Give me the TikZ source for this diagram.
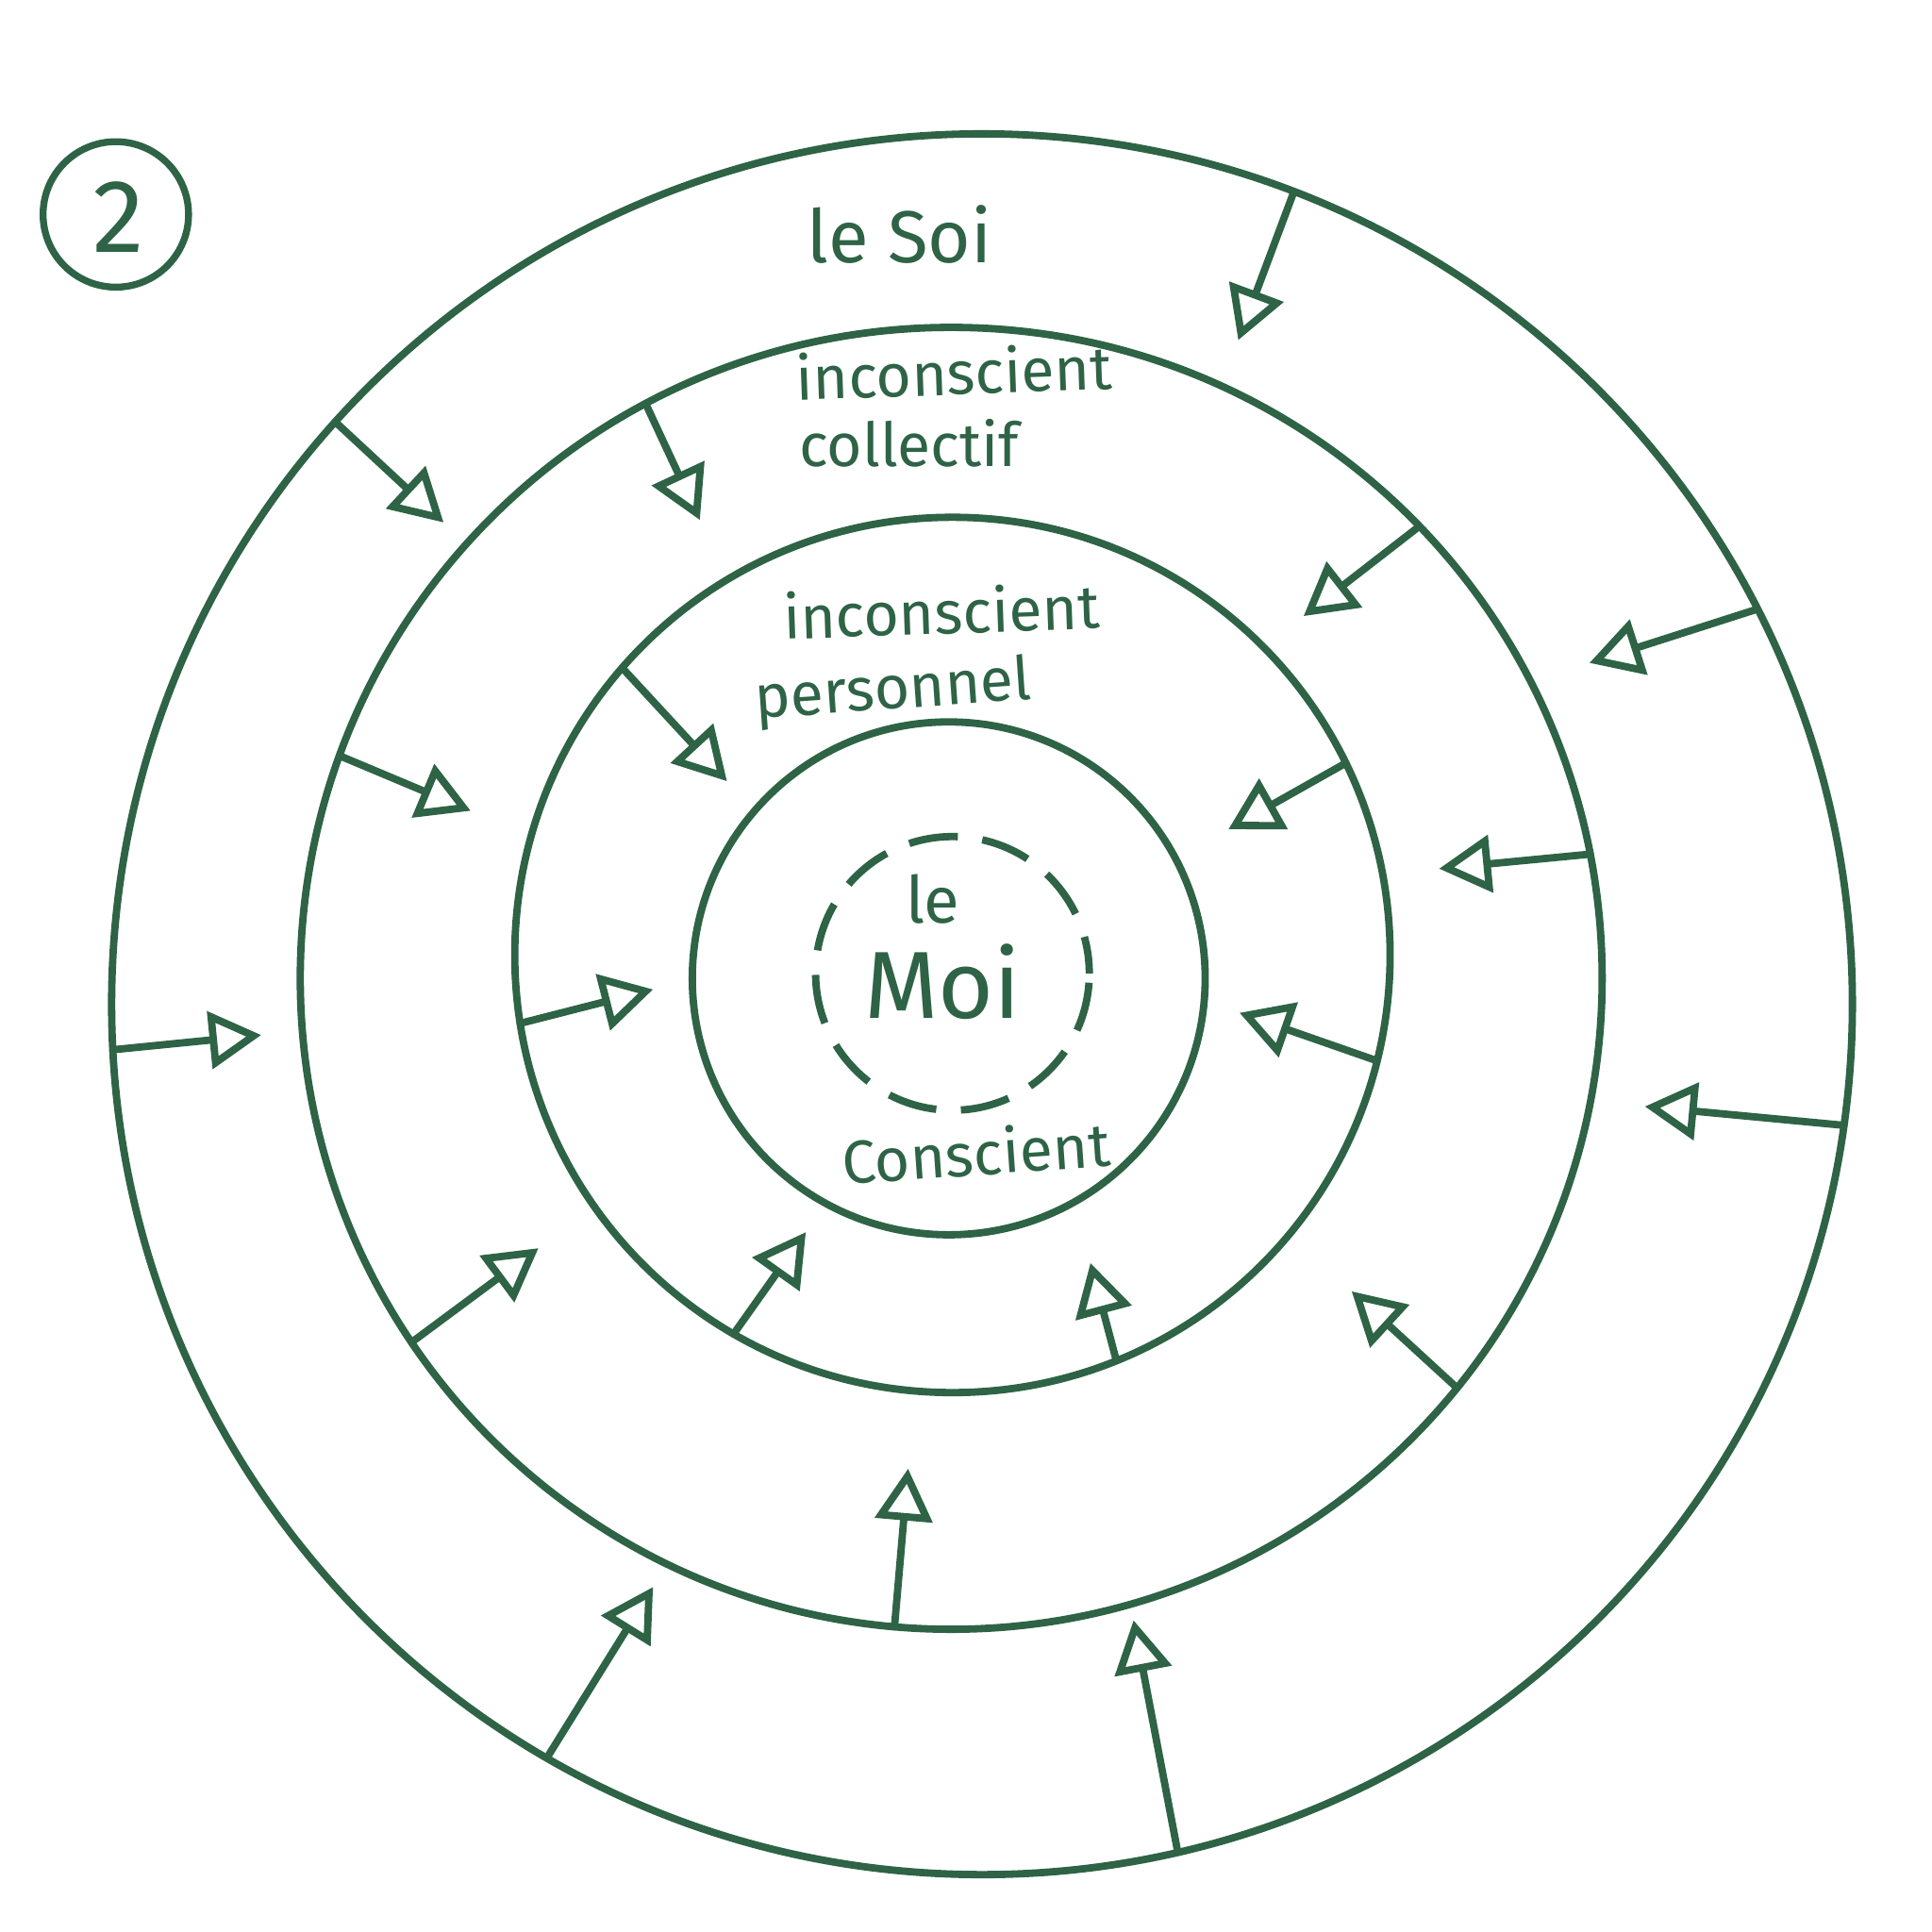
\documentclass[tikz,border=0pt]{standalone}
\usepackage{fontspec}
\setmainfont{Fira Sans}
\usetikzlibrary{arrows.meta}
\definecolor{pencil}{RGB}{46,99,70}
\begin{document}
\begin{tikzpicture}[x=0.01cm,y=-0.01cm,
  ring/.style={draw=pencil,line width=1.7pt,circle,inner sep=0pt,outer sep=0pt},
  arr/.style={draw=pencil,line width=1.7pt,line cap=round,line join=round,
    -{Triangle[open,length=0.42cm,width=0.46cm,line width=1.7pt]}},
  lbl/.style={text=pencil,font=\fontsize{14}{16}\selectfont,inner sep=0pt}]
\useasboundingbox (0,0) rectangle (1568,1568);
% circled number
\node[ring,minimum size=1.18cm,line width=1.6pt] (num) at (94,174) {};
\node[lbl,font=\fontsize{24}{26}\selectfont] (two) at (96,176) {2};
% rings
\node[ring,minimum size=14.12cm] (c1) at (797,815) {};
\node[ring,minimum size=10.56cm] (c2) at (772,794) {};
\node[ring,minimum size=7.10cm] (c3) at (773,775) {};
\node[ring,minimum size=4.16cm] (c4) at (770,794) {};
\node[ring,minimum size=2.22cm,dash pattern=on 0.40cm off 0.20cm,dash phase=0.1cm] (c5) at (773,790) {};
% labels
\node[lbl,font=\fontsize{17}{19}\selectfont] (soi) at (730,190) {le Soi};
\node[lbl,rotate=2,anchor=west] (ic1) at (645,306) {inconscient};
\node[lbl,anchor=west] (ic2) at (648,360) {collectif};
\node[lbl,rotate=2,anchor=west] (ip1) at (635,500) {inconscient};
\node[lbl,rotate=4,anchor=west] (ip2) at (612,570) {personnel};
\node[lbl,font=\fontsize{15}{17}\selectfont] (le) at (757,730) {le};
\node[lbl,font=\fontsize{22}{24}\selectfont] (moi) at (765,797) {Moi};
\node[lbl,rotate=4] (consc) at (792,935) {Conscient};
% arrow tips
\coordinate (t1) at (1005,276);
\coordinate (t2) at (360,424);
\coordinate (t3) at (1290,538);
\coordinate (t4) at (212,840);
\coordinate (t5) at (1335,898);
\coordinate (t6) at (530,1288);
\coordinate (t7) at (920,1315);
\coordinate (t8) at (568,422);
\coordinate (t9) at (1058,500);
\coordinate (t10) at (382,658);
\coordinate (t11) at (1168,705);
\coordinate (t12) at (437,1013);
\coordinate (t13) at (1097,1048);
\coordinate (t14) at (737,1192);
\coordinate (t15) at (590,634);
\coordinate (t16) at (997,673);
\coordinate (t17) at (530,803);
\coordinate (t18) at (1006,822);
\coordinate (t19) at (654,1000);
\coordinate (t20) at (885,1025);
% outer ring arrows
\draw[arr] (c1.69.2) -- (t1);
\draw[arr] (c1.138.1) -- (t2);
\draw[arr] (c1.27.8) -- (t3);
\draw[arr] (c1.-177.6) -- (t4);
\draw[arr] (c1.-8.5) -- (t5);
\draw[arr] (c1.-120.8) -- (t6);
\draw[arr] (c1.-77.6) -- (t7);
% second ring arrows
\draw[arr] (c2.118) -- (t8);
\draw[arr] (c2.44.9) -- (t9);
\draw[arr] (c2.160.2) -- (t10);
\draw[arr] (c2.11.4) -- (t11);
\draw[arr] (c2.-146.9) -- (t12);
\draw[arr] (c2.-39.9) -- (t13);
\draw[arr] (c2.-95.5) -- (t14);
% third ring arrows
\draw[arr] (c3.139.8) -- (t15);
\draw[arr] (c3.26.1) -- (t16);
\draw[arr] (c3.-171.6) -- (t17);
\draw[arr] (c3.-14.6) -- (t18);
\draw[arr] (c3.-120.2) -- (t19);
\draw[arr] (c3.-68.2) -- (t20);
\end{tikzpicture}
\end{document}
